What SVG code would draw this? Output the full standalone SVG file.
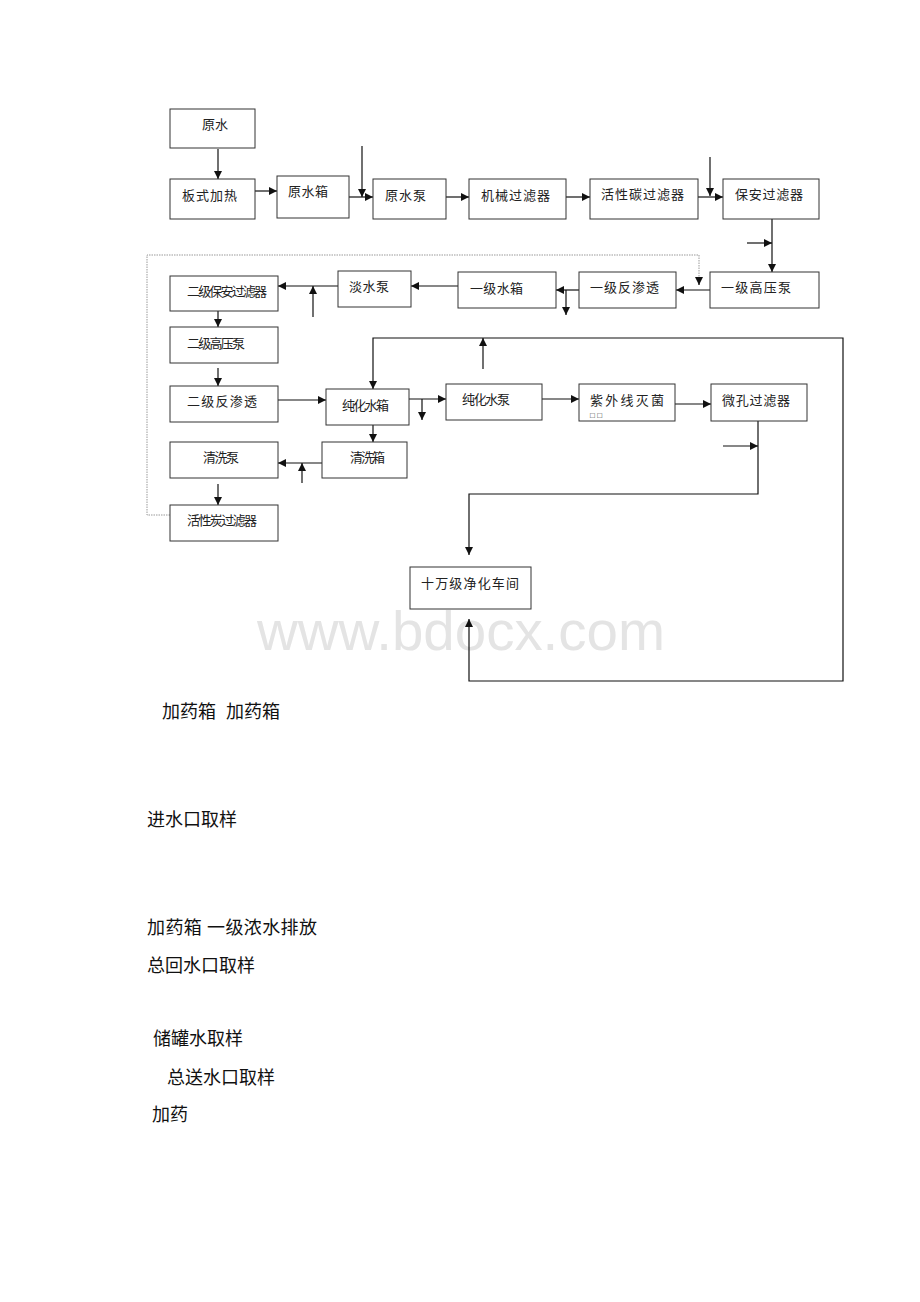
<svg xmlns="http://www.w3.org/2000/svg" width="920" height="1302" viewBox="0 0 920 1302">
<style>
.box{fill:#fff;stroke:#333;stroke-width:1}
.lbl{font-family:"Liberation Sans","Noto Sans CJK SC",sans-serif;font-size:13px;fill:#222}
.ln{fill:none;stroke:#111;stroke-width:1.2}
.dot{fill:none;stroke:#999;stroke-width:1;stroke-dasharray:1.5 1}
.note{font-family:"Liberation Serif","Noto Sans CJK SC",serif;font-size:18px;fill:#111}
.wm{font-family:"Liberation Sans",Arial,sans-serif;font-size:56px;fill:#e4e4e4}
</style>
<defs>
<marker id="ah" markerUnits="userSpaceOnUse" markerWidth="9" markerHeight="8" refX="8" refY="4" orient="auto">
<path d="M0,0 L8,4 L0,8 z" fill="#111"/>
</marker>
</defs>
<rect width="920" height="1302" fill="#fff"/>
<text class="wm" x="257" y="650" textLength="408" lengthAdjust="spacingAndGlyphs">www.bdocx.com</text>

<g id="connectors">
<path class="ln" d="M218,149 V179" marker-end="url(#ah)"/>
<path class="ln" d="M255,191 H277" marker-end="url(#ah)"/>
<path class="ln" d="M349,197 H373" marker-end="url(#ah)"/>
<path class="ln" d="M362,146 V197" marker-end="url(#ah)"/>
<path class="ln" d="M446,197 H469" marker-end="url(#ah)"/>
<path class="ln" d="M566,197 H590" marker-end="url(#ah)"/>
<path class="ln" d="M698,197 H723" marker-end="url(#ah)"/>
<path class="ln" d="M710,157 V196" marker-end="url(#ah)"/>
<path class="ln" d="M772,219 V272" marker-end="url(#ah)"/>
<path class="ln" d="M747,243 H772" marker-end="url(#ah)"/>
<path class="ln" d="M710,290 H676" marker-end="url(#ah)"/>
<path class="ln" d="M579,290 H556" marker-end="url(#ah)"/>
<path class="ln" d="M566,290 V315" marker-end="url(#ah)"/>
<path class="ln" d="M458,286 H411" marker-end="url(#ah)"/>
<path class="ln" d="M338,286 H278" marker-end="url(#ah)"/>
<path class="ln" d="M313,317 V286" marker-end="url(#ah)"/>
<path class="ln" d="M218,311 V327" marker-end="url(#ah)"/>
<path class="ln" d="M218,368 V386" marker-end="url(#ah)"/>
<path class="ln" d="M278,400 H326" marker-end="url(#ah)"/>
<path class="ln" d="M600,338 H373 V389" marker-end="url(#ah)"/>
<path class="ln" d="M600,338 H843 V681 H469 V619" marker-end="url(#ah)"/>
<path class="ln" d="M483,369 V338" marker-end="url(#ah)"/>
<path class="ln" d="M409,399 H446" marker-end="url(#ah)"/>
<path class="ln" d="M422,399 V420" marker-end="url(#ah)"/>
<path class="ln" d="M373,425 V442" marker-end="url(#ah)"/>
<path class="ln" d="M322,463 H278" marker-end="url(#ah)"/>
<path class="ln" d="M302,483 V463" marker-end="url(#ah)"/>
<path class="ln" d="M218,484 V505" marker-end="url(#ah)"/>
<path class="ln" d="M542,399 H579" marker-end="url(#ah)"/>
<path class="ln" d="M675,404 H711" marker-end="url(#ah)"/>
<path class="ln" d="M758,421 V494 H469 V555" marker-end="url(#ah)"/>
<path class="ln" d="M723,446 H758" marker-end="url(#ah)"/>
<path class="dot" d="M170,515 H147 V255 H699 V280"/>
<path class="ln" d="M699,279 V285" marker-end="url(#ah)"/>
</g>

<g id="n-yuanshui"><rect class="box" x="170" y="109" width="85" height="39"/><text class="lbl" x="202" y="129">原水</text></g>
<g id="n-banshi"><rect class="box" x="170" y="179" width="85" height="40"/><text class="lbl" x="182" y="200" textLength="55">板式加热</text></g>
<g id="n-yuanshuixiang"><rect class="box" x="277" y="176" width="72" height="42"/><text class="lbl" x="288" y="196" textLength="40">原水箱</text></g>
<g id="n-yuanshuibeng"><rect class="box" x="373" y="179" width="73" height="40"/><text class="lbl" x="385" y="200" textLength="41">原水泵</text></g>
<g id="n-jixie"><rect class="box" x="469" y="179" width="97" height="40"/><text class="lbl" x="481" y="200" textLength="69">机械过滤器</text></g>
<g id="n-huoxingtan"><rect class="box" x="590" y="179" width="108" height="40"/><text class="lbl" x="601" y="199" textLength="83">活性碳过滤器</text></g>
<g id="n-baoan"><rect class="box" x="723" y="179" width="96" height="40"/><text class="lbl" x="735" y="199" textLength="68">保安过滤器</text></g>
<g id="n-yjgyb"><rect class="box" x="710" y="272" width="109" height="36"/><text class="lbl" x="721" y="292" textLength="70">一级高压泵</text></g>
<g id="n-yjfst"><rect class="box" x="579" y="272" width="97" height="36"/><text class="lbl" x="590" y="292" textLength="69">一级反渗透</text></g>
<g id="n-yjsx"><rect class="box" x="458" y="272" width="98" height="36"/><text class="lbl" x="470" y="293" textLength="53">一级水箱</text></g>
<g id="n-danshuibeng"><rect class="box" x="338" y="271" width="73" height="36"/><text class="lbl" x="349" y="291" textLength="40">淡水泵</text></g>
<g id="n-ejbaoan"><rect class="box" x="170" y="276" width="108" height="35"/><text class="lbl" x="187" y="296" textLength="80">二级保安过滤器</text></g>
<g id="n-ejgyb"><rect class="box" x="170" y="327" width="108" height="36"/><text class="lbl" x="187" y="348" textLength="58">二级高压泵</text></g>
<g id="n-ejfst"><rect class="box" x="170" y="386" width="108" height="36"/><text class="lbl" x="187" y="406" textLength="70">二级反渗透</text></g>
<g id="n-chunhuashuixiang"><rect class="box" x="326" y="389" width="83" height="36"/><text class="lbl" x="342" y="410" textLength="47">纯化水箱</text></g>
<g id="n-qingxixiang"><rect class="box" x="322" y="442" width="85" height="36"/><text class="lbl" x="350" y="462" textLength="35">清洗箱</text></g>
<g id="n-qingxibeng"><rect class="box" x="170" y="442" width="108" height="36"/><text class="lbl" x="203" y="462" textLength="36">清洗泵</text></g>
<g id="n-huoxingtan2"><rect class="box" x="170" y="505" width="108" height="36"/><text class="lbl" x="187" y="525" textLength="70">活性炭过滤器</text></g>
<g id="n-chunhuashuibeng"><rect class="box" x="446" y="384" width="96" height="36"/><text class="lbl" x="462" y="404" textLength="48">纯化水泵</text></g>
<g id="n-ziwaixian"><rect class="box" x="579" y="384" width="96" height="37"/><text class="lbl" x="590" y="405" textLength="74">紫外线灭菌</text><text class="lbl" x="590" y="418" style="font-size:8px" fill="#555" textLength="12">□□</text></g>
<g id="n-weikong"><rect class="box" x="711" y="384" width="96" height="37"/><text class="lbl" x="722" y="405" textLength="68">微孔过滤器</text></g>
<g id="n-chejian"><rect class="box" x="410" y="567" width="121" height="42"/><text class="lbl" x="421" y="588" textLength="98">十万级净化车间</text></g>

<g id="notes">
<text class="note" x="162" y="718">加药箱<tspan x="226">加药箱</tspan></text>
<text class="note" x="147" y="826" textLength="90">进水口取样</text>
<text class="note" x="147" y="934" textLength="170">加药箱 一级浓水排放</text>
<text class="note" x="147" y="972" textLength="108">总回水口取样</text>
<text class="note" x="153" y="1045" textLength="90">储罐水取样</text>
<text class="note" x="167" y="1084" textLength="108">总送水口取样</text>
<text class="note" x="152" y="1121" textLength="36">加药</text>
</g>
</svg>
